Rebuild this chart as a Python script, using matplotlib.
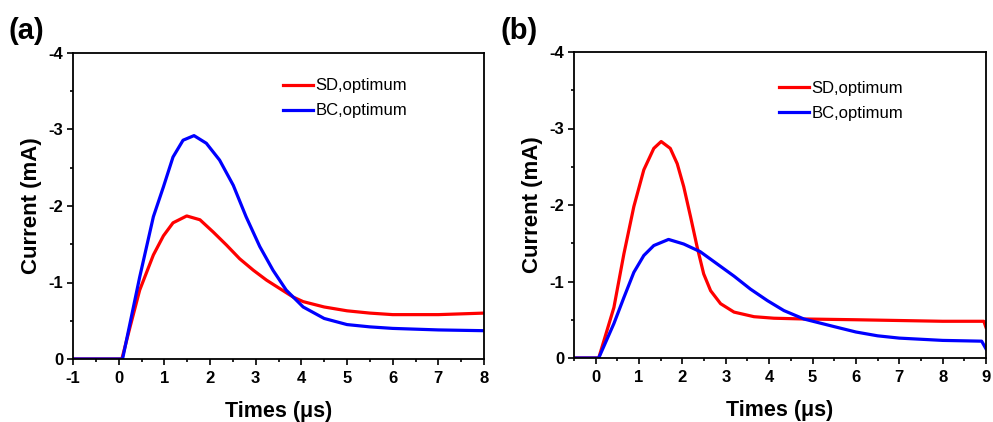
import matplotlib
matplotlib.use("Agg")
import matplotlib.pyplot as plt
from matplotlib.ticker import MultipleLocator

plt.rcParams['font.family'] = ['Liberation Sans', 'DejaVu Sans']
plt.rcParams['axes.unicode_minus'] = False

# panel (a)
a_sd_t = [-1.0, 0.0, 0.07, 0.25, 0.46, 0.76, 0.98, 1.19, 1.49, 1.78, 2.07, 2.36,
          2.65, 2.95, 3.24, 3.53, 3.82, 4.04, 4.5, 5.0, 5.5, 6.0, 7.0, 8.0]
a_sd_i = [0.0, 0.0, 0.0, -0.42, -0.90, -1.36, -1.61, -1.78, -1.87, -1.82, -1.66,
          -1.49, -1.31, -1.16, -1.03, -0.92, -0.81, -0.75, -0.68, -0.63, -0.60,
          -0.58, -0.58, -0.60]
a_bc_t = [-1.0, 0.0, 0.085, 0.46, 0.76, 0.98, 1.19, 1.41, 1.65, 1.92, 2.21, 2.51,
          2.79, 3.09, 3.38, 3.67, 4.04, 4.5, 5.0, 5.5, 6.0, 7.0, 8.0]
a_bc_i = [0.0, 0.0, 0.0, -1.07, -1.86, -2.25, -2.64, -2.86, -2.92, -2.82, -2.60,
          -2.27, -1.86, -1.47, -1.16, -0.90, -0.68, -0.53, -0.45, -0.42, -0.40,
          -0.38, -0.37]

# panel (b)
b_sd_t = [-0.5, 0.0, 0.07, 0.42, 0.65, 0.88, 1.11, 1.34, 1.51, 1.72, 1.88, 2.03,
          2.19, 2.34, 2.49, 2.65, 2.88, 3.19, 3.65, 4.11, 4.8, 6.0, 7.0, 8.0,
          8.95, 9.0]
b_sd_i = [0.0, 0.0, 0.0, -0.66, -1.36, -1.98, -2.46, -2.74, -2.83, -2.74, -2.54,
          -2.24, -1.84, -1.45, -1.10, -0.88, -0.71, -0.60, -0.54, -0.52, -0.51,
          -0.50, -0.49, -0.48, -0.48, -0.40]
b_bc_t = [-0.5, 0.0, 0.07, 0.42, 0.65, 0.88, 1.11, 1.34, 1.68, 2.03, 2.41, 2.80,
          3.19, 3.57, 3.96, 4.34, 4.8, 5.5, 6.0, 6.5, 7.0, 8.0, 8.9, 9.0]
b_bc_i = [0.0, 0.0, 0.0, -0.45, -0.79, -1.12, -1.34, -1.47, -1.55, -1.49, -1.39,
          -1.23, -1.07, -0.90, -0.75, -0.62, -0.51, -0.41, -0.34, -0.29, -0.26,
          -0.23, -0.22, -0.12]

labels = ["SD,optimum", "BC,optimum"]
colors = ["#ff0000", "#0000ff"]

W, H = 993, 422
fig = plt.figure(figsize=(W/100, H/100), dpi=100)
ax1 = fig.add_axes([73/W, 1-359/H, 411/W, 306/H])
ax2 = fig.add_axes([574/W, 1-358/H, 412/W, 306/H])


def panel(ax, sd_t, sd_i, bc_t, bc_i, xlim, leg_x, leg_y, tag, tag_x):
    ax.plot(sd_t, sd_i, color=colors[0], lw=2.3, label=labels[0])
    ax.plot(bc_t, bc_i, color=colors[1], lw=2.3, label=labels[1])
    ax.set_xlim(*xlim)
    ax.set_ylim(0, -4)
    ax.xaxis.set_major_locator(MultipleLocator(1))
    ax.xaxis.set_minor_locator(MultipleLocator(0.5))
    ax.yaxis.set_major_locator(MultipleLocator(1))
    ax.yaxis.set_minor_locator(MultipleLocator(0.5))
    ax.tick_params(which='major', direction='out', length=4, width=1.2,
                   labelsize=12, pad=3)
    ax.tick_params(axis='x', which='major', pad=4.5)
    ax.tick_params(which='minor', direction='out', length=2.3, width=1.2)
    for lab in ax.get_xticklabels() + ax.get_yticklabels():
        lab.set_fontweight('bold')
    for s in ax.spines.values():
        s.set_linewidth(1.3)
    ax.set_xlabel("Times (\u03bcs)", fontsize=15.5, fontweight='bold', labelpad=11)
    ax.set_ylabel("Current (mA)", fontsize=16, fontweight='bold', labelpad=5)
    ax.legend(loc='upper left', bbox_to_anchor=(leg_x, leg_y), frameon=False,
              fontsize=12, handlelength=1.8, handletextpad=0.12,
              labelspacing=0.6, borderaxespad=0, borderpad=0)
    fig.text(tag_x/W, 1-17/H, tag, fontsize=21, fontweight='bold',
             ha='left', va='top')


panel(ax1, a_sd_t, a_sd_i, a_bc_t, a_bc_i, (-1, 8), 0.512, 0.917, "(a)", 9)
panel(ax2, b_sd_t, b_sd_i, b_bc_t, b_bc_i, (-0.5, 9), 0.498, 0.906, "(b)", 501)

fig.savefig("out.png", dpi=100)
